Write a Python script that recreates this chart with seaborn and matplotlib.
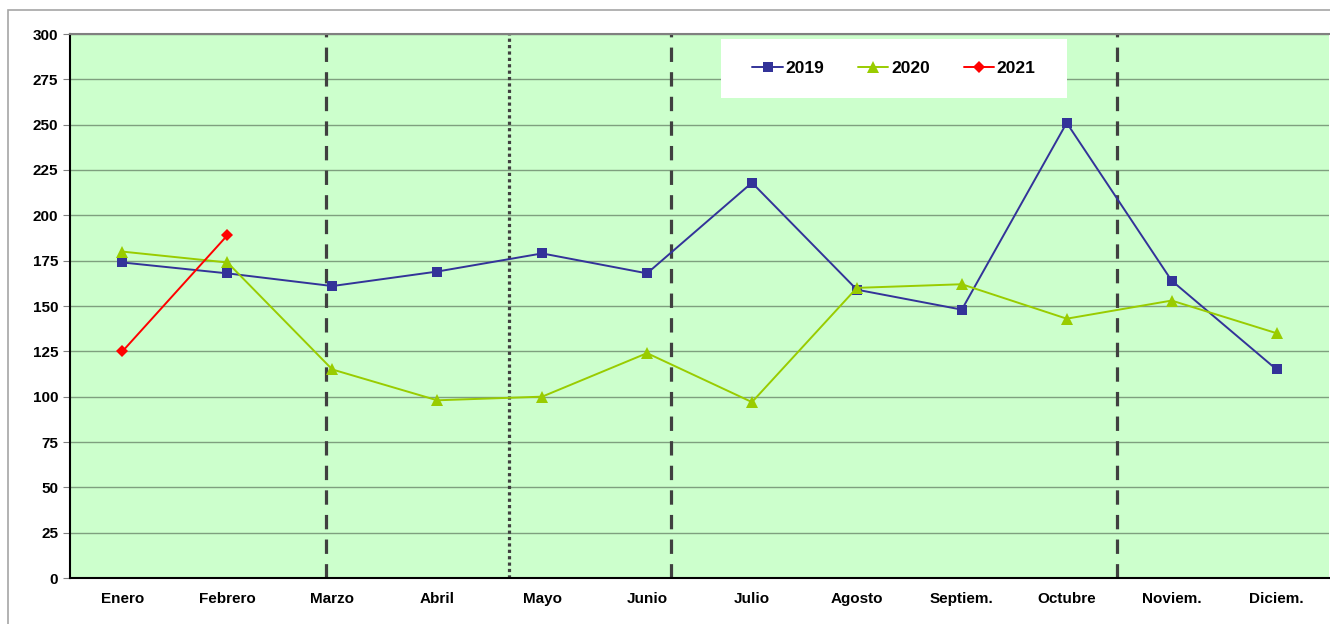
import pandas as pd
import numpy as np
import matplotlib.pyplot as plt
import seaborn as sns
from matplotlib.patches import Rectangle
from matplotlib.ticker import FixedLocator
from matplotlib.colors import to_hex

# ── Datos ──────────────────────────────────────────────────────────────────
meses = ['Enero', 'Febrero', 'Marzo', 'Abril', 'Mayo', 'Junio',
         'Julio', 'Agosto', 'Septiem.', 'Octubre', 'Noviem.', 'Diciem.']
v2019 = [174, 168, 161, 169, 179, 168, 218, 159, 148, 251, 164, 115]
v2020 = [180, 174, 115, 98, 100, 124, 97, 160, 162, 143, 153, 135]
v2021 = [125, 189]

# posiciones (en unidades de categoría) de las líneas verticales
cortes_disc = [1.94, 5.23, 9.48]
cortes_punt = [3.68]

frames = []
for anio, vals in [('2019', v2019), ('2020', v2020), ('2021', v2021)]:
    frames.append(pd.DataFrame({'mes': meses[:len(vals)],
                                'valor': vals, 'anio': anio}))
df = pd.concat(frames, ignore_index=True)
df['pos'] = df['mes'].map({m: i for i, m in enumerate(meses)})

# ── Figura ─────────────────────────────────────────────────────────────────
sns.set_style('white')
plt.rcParams['font.family'] = ['Liberation Sans', 'DejaVu Sans']
plt.rcParams['text.color'] = 'black'
plt.rcParams['xtick.labelcolor'] = 'black'
plt.rcParams['ytick.labelcolor'] = 'black'

fig = plt.figure(figsize=(13.3, 6.24), dpi=100)
ax = fig.add_axes([70/1330, 46/624, 1259/1330, 544/624])
ax.set_facecolor('#CCFFCC')

# marco exterior gris
fig.patches.append(Rectangle((8/1330, -0.2), 2, 614/624 + 0.2,
                             transform=fig.transFigure, fill=False,
                             edgecolor='#A6A6A6', linewidth=1.2,
                             clip_on=False))

for y in range(25, 301, 25):
    ax.axhline(y, color='#7F9F7F', linewidth=1.0, zorder=1)

for x in cortes_disc:
    ax.axvline(x, color='#404040', linewidth=2.3, dashes=(4.5, 3.2), zorder=2)
for x in cortes_punt:
    ax.axvline(x, color='#404040', linewidth=2.3, dashes=(1, 1), zorder=2)

paleta = {'2019': '#333399', '2020': '#99CC00', '2021': '#FF0000'}
marcas = {'2019': 's', '2020': '^', '2021': 'D'}
tamanos = {'#333399': 7.0, '#99cc00': 9.0, '#ff0000': 6.5}
sns.lineplot(data=df, x='pos', y='valor', hue='anio', style='anio',
             palette=paleta, markers=marcas, dashes=False,
             markersize=7.5, markeredgewidth=0, linewidth=1.4,
             ax=ax, zorder=3, legend=True)
for ln in ax.get_lines():
    c = to_hex(ln.get_color())
    if c in tamanos:
        ln.set_markersize(tamanos[c])

ax.set_xlim(-0.5, 11.5)
ax.set_ylim(0, 300)
ax.set_xticks(range(12))
ax.set_xticklabels(meses, fontsize=11, fontweight='bold', color='black')
ax.xaxis.set_minor_locator(FixedLocator(np.arange(-0.5, 12, 1)))
ax.tick_params(axis='x', which='major', length=0, pad=10)
ax.tick_params(axis='x', which='minor', length=5, color='#808080', direction='out')
ax.set_yticks(range(0, 301, 25))
ax.set_yticklabels([str(v) for v in range(0, 301, 25)], fontsize=11,
                   fontweight='bold', color='black')
ax.tick_params(axis='y', length=5, color='#808080', direction='out', left=True)
ax.set_xlabel('')
ax.set_ylabel('')

for s in ['left', 'bottom']:
    ax.spines[s].set_color('black')
    ax.spines[s].set_linewidth(1.5)
ax.spines['top'].set_color('#808080')
ax.spines['top'].set_linewidth(1.5)
ax.spines['right'].set_visible(False)

# caja blanca de la leyenda
ax.add_patch(Rectangle((0.517, 0.882), 0.275, 0.109, transform=ax.transAxes,
                       facecolor='white', edgecolor='none', zorder=4))
handles, labels = ax.get_legend_handles_labels()
for h in handles:
    c = to_hex(h.get_color())
    if c in tamanos:
        h.set_markersize(tamanos[c])
leg = ax.legend(handles, labels, loc='center', bbox_to_anchor=(0.6545, 0.9365),
                ncol=3, frameon=False, handlelength=1.75,
                handletextpad=0.15, columnspacing=1.95, borderaxespad=0,
                prop={'weight': 'bold', 'size': 12.5})
for t in leg.get_texts():
    t.set_color('black')
leg.set_zorder(5)

plt.savefig('out.png', dpi=100, facecolor='white')
